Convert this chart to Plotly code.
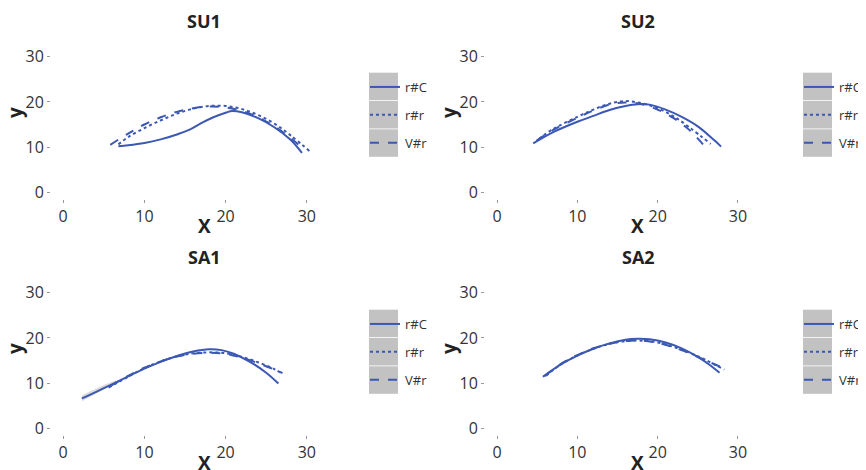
import plotly.graph_objects as go

WIN_W, WIN_H = 866, 470
OFF = 8  # default page body margin
W, H = WIN_W - OFF, WIN_H - OFF
BLUE = "#3B58B4"

panel_titles = ["SU1", "SU2", "SA1", "SA2"]
series_names = ["r#C", "r#r", "V#r"]
x_ticks = [0, 10, 20, 30]
y_ticks = [0, 10, 20, 30]

# SU1
su1_rC_x = [6.8, 8, 10, 12, 14, 15.5, 17, 18.5, 20, 20.8, 22, 24, 26, 28, 29.4]
su1_rC_y = [10.2, 10.4, 10.9, 11.7, 12.8, 13.8, 15.3, 16.6, 17.6, 18.0, 17.7, 16.4, 14.4, 11.6, 8.7]
su1_rr_x = [6.8, 8, 10, 12, 14, 16, 18, 20, 22, 24, 26, 28, 30.6]
su1_rr_y = [10.6, 12.2, 14.2, 15.9, 17.4, 18.5, 19.1, 19.1, 18.4, 17.1, 15.2, 12.6, 8.7]
su1_Vr_x = [5.8, 8, 10, 12, 14, 16, 18, 20, 22, 24, 26, 28, 29.8]
su1_Vr_y = [10.5, 13.0, 15.0, 16.6, 17.8, 18.6, 19.0, 18.8, 18.0, 16.6, 14.6, 12.0, 9.2]

# SU2
su2_rC_x = [4.5, 7, 10, 12, 14, 16, 17.5, 19, 21, 23, 25, 27, 27.9]
su2_rC_y = [10.8, 13.3, 15.6, 16.9, 18.2, 19.1, 19.5, 19.4, 18.3, 16.7, 14.6, 11.6, 10.1]
su2_rr_x = [5.2, 7, 10, 12, 14, 16, 18, 20, 22, 24, 26.6]
su2_rr_y = [11.8, 14.0, 16.7, 18.3, 19.6, 20.2, 19.7, 18.6, 16.8, 14.3, 10.7]
su2_Vr_x = [4.9, 7, 10, 12, 14, 16, 18, 20, 22, 24, 25.8]
su2_Vr_y = [11.4, 13.8, 16.5, 18.1, 19.4, 19.9, 19.5, 18.3, 16.4, 13.7, 10.3]

# SA1
sa1_rC_x = [2.3, 4, 6, 8, 10, 12, 14, 16, 18, 19.5, 21, 23, 25, 26.5]
sa1_rC_y = [6.6, 8.0, 9.7, 11.5, 13.2, 14.7, 16.0, 17.0, 17.5, 17.3, 16.5, 14.7, 12.3, 9.9]
sa1_rr_x = [5.6, 8, 10, 12, 14, 16, 18, 20, 22, 24, 26, 27.1]
sa1_rr_y = [9.0, 11.4, 13.3, 14.8, 15.9, 16.6, 16.8, 16.6, 15.8, 14.6, 13.1, 12.0]
sa1_Vr_x = [5.8, 8, 10, 12, 14, 16, 18, 20, 22, 24, 26, 27.0]
sa1_Vr_y = [9.3, 11.6, 13.4, 14.8, 15.9, 16.5, 16.7, 16.5, 15.6, 14.4, 13.0, 12.2]
# faint confidence band at the start of SA1 r#C
sa1_band_x = [2.3, 3.5, 5.0, 6.5]
sa1_band_lo = [6.0, 7.2, 8.6, 10.0]
sa1_band_hi = [7.3, 8.4, 9.6, 10.6]

# SA2
sa2_rC_x = [5.7, 8, 10, 12, 14, 16, 17.5, 19, 21, 23, 25, 26.5, 27.7]
sa2_rC_y = [11.4, 14.2, 16.1, 17.6, 18.8, 19.6, 19.8, 19.7, 19.0, 17.7, 15.8, 14.0, 12.3]
sa2_rr_x = [6.1, 8, 10, 12, 14, 16, 18, 20, 22, 24, 26, 28.3]
sa2_rr_y = [11.6, 14.2, 16.1, 17.6, 18.7, 19.3, 19.4, 19.0, 18.0, 16.7, 15.1, 13.0]
sa2_Vr_x = [5.9, 8, 10, 12, 14, 16, 18, 20, 22, 24, 26, 28.5]
sa2_Vr_y = [11.5, 14.3, 16.2, 17.7, 18.7, 19.3, 19.4, 18.9, 17.9, 16.6, 15.0, 13.1]

panels = [
    [(su1_rC_x, su1_rC_y), (su1_rr_x, su1_rr_y), (su1_Vr_x, su1_Vr_y)],
    [(su2_rC_x, su2_rC_y), (su2_rr_x, su2_rr_y), (su2_Vr_x, su2_Vr_y)],
    [(sa1_rC_x, sa1_rC_y), (sa1_rr_x, sa1_rr_y), (sa1_Vr_x, sa1_Vr_y)],
    [(sa2_rC_x, sa2_rC_y), (sa2_rr_x, sa2_rr_y), (sa2_Vr_x, sa2_Vr_y)],
]
dashes = ["solid", "dot", "dash"]

# layout geometry (window pixels)
plot_boxes = [  # x0, x1, y0(top), y1(bottom)
    (51, 319, 50, 199),
    (485, 750, 50, 199),
    (51, 319, 286, 435),
    (485, 750, 286, 435),
]
legend_left = [365, 799, 365, 799]
legend_top = [72, 72, 309, 309]
title_pos = [(204, 21), (638, 21), (204, 257), (638, 257)]
xlab_pos = [(204, 226), (637, 226), (204, 463), (637, 463)]
ylab_pos = [(15, 113), (449, 113), (15, 349), (449, 349)]


def px(x):
    return (x - OFF) / W


def py(y):
    return 1 - (y - OFF) / H


FONT = "Open Sans, Noto Sans, sans-serif"
fig = go.Figure()
layout = dict(
    width=W, height=H, margin=dict(l=0, r=0, t=0, b=0, autoexpand=False),
    paper_bgcolor="white", plot_bgcolor="white",
    font=dict(family=FONT, color="#333333"),
    showlegend=True,
)
shapes = []
annotations = []
for i, series in enumerate(panels):
    k = i + 1
    xa = "x" if k == 1 else f"x{k}"
    ya = "y" if k == 1 else f"y{k}"
    lg = "legend" if k == 1 else f"legend{k}"
    if k == 3:
        fig.add_trace(go.Scatter(
            x=sa1_band_x + sa1_band_x[::-1], y=sa1_band_hi + sa1_band_lo[::-1],
            fill="toself", fillcolor="rgba(150,150,150,0.35)", line=dict(width=0),
            mode="lines", showlegend=False, hoverinfo="skip", xaxis=xa, yaxis=ya, legend=lg,
        ))
    for j, (xs, ys) in enumerate(series):
        fig.add_trace(go.Scatter(
            x=xs, y=ys, mode="lines", name=series_names[j],
            line=dict(color=BLUE, width=2, dash=dashes[j], shape="spline"),
            xaxis=xa, yaxis=ya, legend=lg, legendgroup=f"{k}_{j}",
        ))
    x0, x1, y0, y1 = plot_boxes[i]
    axkw = dict(showgrid=False, zeroline=False, showline=False, ticks="outside",
                ticklen=3, tickwidth=1, tickcolor="#999999",
                tickfont=dict(size=16, color="#333333", family=FONT),
                tickvals=x_ticks, range=[-1.5, 31.5], fixedrange=True)
    layout["xaxis" if k == 1 else f"xaxis{k}"] = dict(axkw, domain=[px(x0), px(x1)], anchor=ya)
    aykw = dict(axkw, tickvals=y_ticks)
    layout["yaxis" if k == 1 else f"yaxis{k}"] = dict(aykw, domain=[py(y1), py(y0)], anchor=xa)
    layout[lg] = dict(x=px(legend_left[i]), y=py(legend_top[i]), xanchor="left", yanchor="top",
                      bgcolor="rgba(0,0,0,0)", borderwidth=0, tracegroupgap=8,
                      font=dict(size=13, color="#333333", family=FONT), traceorder="grouped")
    # gray key boxes
    for j in range(3):
        by0 = legend_top[i] + 0.7 + j * 28.3
        shapes.append(dict(type="rect", xref="paper", yref="paper",
                           x0=px(legend_left[i] + 4), x1=px(legend_left[i] + 33),
                           y0=py(by0 + 27.5), y1=py(by0),
                           fillcolor="#C2C2C2", line=dict(width=0), layer="below"))
    common = dict(xref="paper", yref="paper", showarrow=False, xanchor="center", yanchor="middle")
    annotations.append(dict(common, text=f"<b>{panel_titles[i]}</b>",
                            x=px(title_pos[i][0]), y=py(title_pos[i][1]),
                            font=dict(size=18, color="#222222", family=FONT)))
    annotations.append(dict(common, text="<b>X</b>", x=px(xlab_pos[i][0]), y=py(xlab_pos[i][1]),
                            font=dict(size=19, color="#222222", family=FONT)))
    annotations.append(dict(common, text="<b>y</b>", x=px(ylab_pos[i][0]), y=py(ylab_pos[i][1]),
                            textangle=-90, font=dict(size=19, color="#222222", family=FONT)))

layout["shapes"] = shapes
layout["annotations"] = annotations
fig.update_layout(**layout)
fig.write_html("out.html")
